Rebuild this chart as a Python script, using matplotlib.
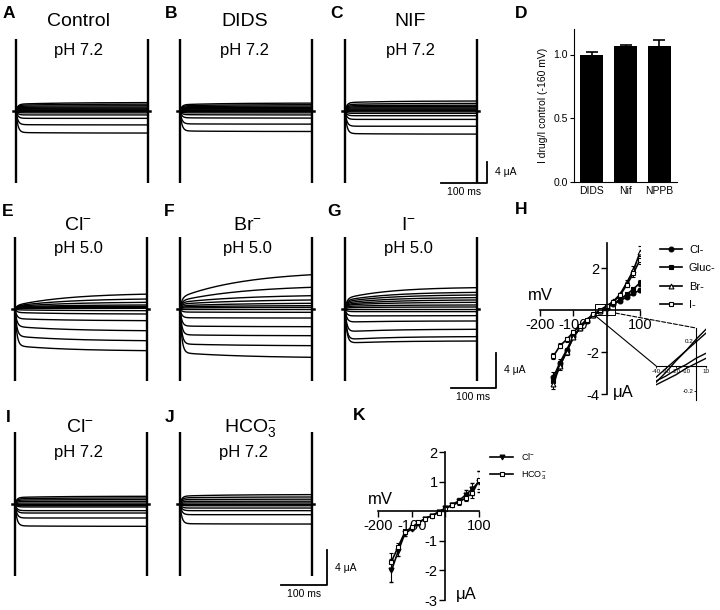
import numpy as np
import matplotlib.pyplot as plt
from matplotlib.patches import Rectangle, ConnectionPatch
from matplotlib.lines import Line2D

plt.rcParams['font.family'] = ['Liberation Sans', 'DejaVu Sans']
plt.rcParams['mathtext.fontset'] = 'custom'
plt.rcParams['mathtext.rm'] = 'Liberation Sans'
plt.rcParams['mathtext.it'] = 'Liberation Sans:italic'
plt.rcParams['mathtext.bf'] = 'Liberation Sans:bold'
plt.rcParams['axes.unicode_minus'] = False

# ---------------- data ----------------
PULSE_MS = 290          # voltage step duration
SCALE_MS, SCALE_UA = 100, 4

# current (uA) of each voltage-step trace at pulse start / pulse end
control_start = [1.3, 1.1, 0.9, 0.7, 0.5, 0.35, 0.2, 0.1, -0.1, -0.35, -0.75, -1.4, -2.6, -4.1]
control_end = [1.6, 1.3, 1.0, 0.75, 0.55, 0.38, 0.22, 0.1, -0.1, -0.35, -0.75, -1.4, -2.65, -4.2]
dids_start = [1.2, 1.0, 0.8, 0.65, 0.5, 0.35, 0.2, 0.08, -0.1, -0.35, -0.7, -1.3, -2.45, -3.8]
dids_end = [1.5, 1.2, 0.95, 0.7, 0.5, 0.35, 0.2, 0.08, -0.1, -0.35, -0.75, -1.35, -2.5, -3.9]
nif_start = [1.6, 1.25, 1.0, 0.8, 0.6, 0.4, 0.22, 0.08, -0.15, -0.45, -0.9, -1.6, -2.9, -4.3]
nif_end = [1.9, 1.45, 1.1, 0.85, 0.6, 0.4, 0.22, 0.08, -0.15, -0.45, -0.9, -1.6, -2.9, -4.4]

cl5_start = [0.4, 0.35, 0.3, 0.25, 0.2, 0.12, 0.05, -0.1, -0.4, -1.1, -2.0, -3.1, -4.2]
cl5_end = [1.7, 1.14, 0.76, 0.46, 0.3, 0.19, 0.08, -0.19, -0.57, -1.33, -2.48, -3.62, -4.76]
br5_start = [1.33, 0.95, 0.76, 0.57, 0.38, 0.25, 0.12, 0.0, -0.35, -1.0, -1.95, -2.95, -4.0, -5.0]
br5_end = [3.92, 2.48, 1.52, 1.03, 0.65, 0.38, 0.19, 0.0, -0.38, -1.03, -2.02, -3.05, -4.19, -5.52]
i5_start = [1.22, 1.0, 0.85, 0.7, 0.55, 0.45, 0.3, 0.15, 0.0, -0.3, -0.8, -1.5, -2.6, -3.5, -3.9]
i5_end = [2.44, 1.9, 1.6, 1.3, 1.03, 0.76, 0.46, 0.23, 0.0, -0.3, -0.76, -1.37, -2.32, -3.16, -3.66]

cl7_start = [0.75, 0.6, 0.45, 0.3, 0.11, 0.0, -0.19, -0.34, -0.76, -1.03, -1.6, -2.5]
cl7_end = [0.88, 0.69, 0.5, 0.3, 0.11, 0.0, -0.19, -0.34, -0.76, -1.03, -1.6, -2.55]
hco3_start = [0.9, 0.7, 0.5, 0.3, 0.12, 0.0, -0.2, -0.46, -0.76, -1.22, -2.25]
hco3_end = [1.07, 0.8, 0.55, 0.32, 0.12, 0.0, -0.2, -0.46, -0.76, -1.22, -2.29]

# D: current ratio at -160 mV
drugs = ['DIDS', 'Nif', 'NPPB']
drug_ratio = [1.0, 1.065, 1.065]
drug_sem = [0.02, 0.01, 0.045]

# H: I-V relation, pH 5.0
iv_mv = [-160, -140, -120, -100, -80, -60, -40, -20, 0, 20, 40, 60, 80, 100]
iv_cl = [-3.2, -2.5, -1.9, -1.25, -0.85, -0.5, -0.25, -0.05, 0.12, 0.28, 0.45, 0.62, 0.8, 0.95]
iv_gluc = [-3.4, -2.6, -1.95, -1.3, -0.85, -0.5, -0.25, -0.05, 0.15, 0.32, 0.5, 0.75, 1.0, 1.3]
iv_br = [-3.5, -2.65, -2.0, -1.3, -0.85, -0.48, -0.22, -0.02, 0.18, 0.42, 0.75, 1.3, 1.9, 2.75]
iv_i = [-2.2, -1.7, -1.4, -1.05, -0.75, -0.45, -0.2, 0.0, 0.2, 0.4, 0.7, 1.2, 1.75, 2.4]
err_cl = [0.25, 0.15, 0.1, 0.08, 0.05, 0.05, 0.03, 0.03, 0.03, 0.03, 0.05, 0.05, 0.08, 0.1]
err_gluc = [0.2, 0.15, 0.1, 0.08, 0.05, 0.05, 0.03, 0.03, 0.03, 0.03, 0.05, 0.08, 0.1, 0.15]
err_br = [0.25, 0.2, 0.12, 0.08, 0.05, 0.05, 0.03, 0.03, 0.03, 0.05, 0.08, 0.12, 0.2, 0.3]
err_i = [0.15, 0.12, 0.1, 0.08, 0.05, 0.05, 0.03, 0.03, 0.03, 0.05, 0.08, 0.12, 0.15, 0.2]

# H inset: -40..10 mV
inset_mv = [-40, -30, -20, -10, 0, 10]
inset_cl = [-0.15, -0.11, -0.07, -0.02, 0.02, 0.06]
inset_gluc = [-0.12, -0.08, -0.03, 0.01, 0.06, 0.1]
inset_br = [-0.13, -0.05, 0.04, 0.12, 0.21, 0.29]
inset_i = [-0.09, -0.02, 0.05, 0.12, 0.19, 0.26]

# K: I-V relation, pH 7.2
k_cl = [-2.0, -1.35, -0.75, -0.6, -0.4, -0.25, -0.15, -0.02, 0.1, 0.22, 0.35, 0.55, 0.75, 1.0]
k_hco3 = [-1.7, -1.2, -0.7, -0.55, -0.38, -0.25, -0.15, -0.05, 0.08, 0.2, 0.3, 0.45, 0.6, 1.05]
k_err_cl = [0.38, 0.15, 0.08, 0.05, 0.05, 0.03, 0.03, 0.03, 0.03, 0.05, 0.08, 0.15, 0.2, 0.35]
k_err_hco3 = [0.3, 0.12, 0.08, 0.05, 0.05, 0.03, 0.03, 0.03, 0.03, 0.05, 0.08, 0.12, 0.15, 0.3]

# ---------------- layout helpers ----------------
W, H = 720, 610
PX_MS = 0.455
fig = plt.figure(figsize=(W / 100, H / 100), dpi=100)


def px_axes(l, t, r, b):
    return fig.add_axes([l / W, 1 - b / H, (r - l) / W, (b - t) / H])


def ftext(x, y, s, **kw):
    fig.text(x / W, 1 - y / H, s, **kw)


def trace_panel(x0, y0, gain, spike, start, end, tau):
    span = spike + 0.6
    ax = px_axes(x0 - 14 * PX_MS, y0 - span * gain, x0 + 306 * PX_MS, y0 + span * gain)
    ax.set_xlim(-14, 306)
    ax.set_ylim(-span, span)
    ax.axis('off')
    t = np.linspace(0, PULSE_MS, 400)
    onset = 1 - np.exp(-t / 4.0)
    shape = (1 - np.exp(-t / tau)) / (1 - np.exp(-PULSE_MS / tau))
    for i0, i1 in zip(start, end):
        ax.plot(t, (i0 + (i1 - i0) * shape) * onset, color='k', lw=1.0)
    for tt in (0, PULSE_MS):
        ax.plot([tt, tt], [-spike, spike], color='k', lw=1.7, solid_capstyle='butt')
    ax.plot([-7, 0], [0, 0], color='k', lw=1.8)
    ax.plot([PULSE_MS, PULSE_MS + 5], [0, 0], color='k', lw=1.8)
    return ax


def scale_bar(ax, t_right, i_bottom):
    ax.plot([t_right - SCALE_MS, t_right, t_right], [i_bottom, i_bottom, i_bottom + SCALE_UA],
            color='k', lw=1.3, clip_on=False)
    ax.annotate(f'{SCALE_UA} μA', xy=(t_right, i_bottom + SCALE_UA / 2), xytext=(6, 0),
                textcoords='offset points', ha='left', va='center', fontsize=7.5,
                annotation_clip=False)
    ax.annotate(f'{SCALE_MS} ms', xy=(t_right - SCALE_MS / 2, i_bottom), xytext=(0, -3),
                textcoords='offset points', ha='center', va='top', fontsize=7.5,
                annotation_clip=False)


def cross_axes(ax):
    for s in ('top', 'right'):
        ax.spines[s].set_visible(False)
    ax.spines['left'].set_position(('data', 0))
    ax.spines['bottom'].set_position(('data', 0))
    ax.patch.set_alpha(0)


def legend_handle(mk, face, label):
    return Line2D([], [], color='k', lw=1.2, marker=mk, ms=3.5, mfc=face, mec='k',
                  mew=0.8, label=label)


# ---------------- row 1 ----------------
trace_panel(16, 111, 5.25, 13.7, control_start, control_end, 100)
trace_panel(180, 111, 5.25, 13.7, dids_start, dids_end, 100)
axc = trace_panel(345, 111, 5.25, 13.7, nif_start, nif_end, 100)
scale_bar(axc, 312, -13.7)

for x, title in [(78, 'Control'), (245, 'DIDS'), (410, 'NIF')]:
    ftext(x, 21, title, ha='center', va='center', fontsize=14)
    ftext(x, 50, 'pH 7.2', ha='center', va='center', fontsize=12)

# D: bar chart
axd = px_axes(574, 29, 677, 182)
axd.bar(range(3), drug_ratio, width=0.68, color='k')
axd.errorbar(range(3), drug_ratio, yerr=drug_sem, fmt='none', ecolor='k',
             capsize=4.5, elinewidth=1.2, capthick=1.2)
axd.set_xlim(-0.515, 2.515)
axd.set_ylim(0, 1.2)
axd.set_yticks([0, 0.5, 1.0])
axd.set_yticklabels(['0.0', '0.5', '1.0'])
axd.set_xticks(range(3))
axd.set_xticklabels(drugs)
axd.tick_params(axis='x', length=0, labelsize=7.5, pad=3)
axd.tick_params(axis='y', length=3, labelsize=7.5, pad=1.5)
for s in ('top', 'right'):
    axd.spines[s].set_visible(False)
axd.set_ylabel('I drug/I control (-160 mV)', fontsize=7.5, labelpad=4)

# ---------------- row 2 ----------------
trace_panel(15, 309, 8.75, 8.2, cl5_start, cl5_end, 120)
trace_panel(180, 309, 8.75, 8.2, br5_start, br5_end, 150)
axg = trace_panel(345, 309, 8.75, 8.2, i5_start, i5_end, 100)
scale_bar(axg, 332, -9.0)

for x, title in [(78, 'Cl$^{-}$'), (247, 'Br$^{-}$'), (408, 'I$^{-}$')]:
    ftext(x, 225, title, ha='center', va='center', fontsize=14)
    ftext(x, 248, 'pH 5.0', ha='center', va='center', fontsize=12)

# H: I-V
axh = px_axes(540, 243, 640, 394)
cross_axes(axh)
axh.set_xlim(-200, 100)
axh.set_ylim(-4, 3.2)
series_h = [
    ('Cl-', iv_cl, err_cl, 'o', 'k'),
    ('Gluc-', iv_gluc, err_gluc, 's', 'k'),
    ('Br-', iv_br, err_br, '^', 'white'),
    ('I-', iv_i, err_i, 's', 'white'),
]
handles = []
for label, vals, err, mk, face in series_h:
    axh.errorbar(iv_mv, vals, yerr=err, color='k', lw=1.2, marker=mk, ms=3.5,
                 mfc=face, mec='k', mew=0.8, capsize=1.5, elinewidth=0.8)
    handles.append(legend_handle(mk, face, label))
axh.set_xticks([-200, -100, 0, 100])
axh.set_xticklabels(['-200', '-100', '', '100'])
axh.set_yticks([-4, -2, 0, 2])
axh.set_yticklabels(['-4', '-2', '', '2'])
axh.tick_params(labelsize=10.5, length=4, width=1, pad=1.5)
for s in ('left', 'bottom'):
    axh.spines[s].set_linewidth(1.2)
axh.add_patch(Rectangle((-36, -0.24), 62, 0.53, fill=False, lw=0.7, ec='k'))
axh.legend(handles=handles, loc='upper left', bbox_to_anchor=(660 / W, 1 - 245 / H),
           bbox_transform=fig.transFigure, frameon=False, fontsize=8, borderpad=0,
           borderaxespad=0, handlelength=2.0, handletextpad=0.6, labelspacing=0.75)
ftext(540, 296, 'mV', ha='center', va='center', fontsize=12)
ftext(623, 393, 'μA', ha='center', va='center', fontsize=12)

# H inset
axin = px_axes(656, 328, 706, 400)
cross_axes(axin)
axin.set_xlim(-40, 10)
axin.set_ylim(-0.27, 0.3)
for vals in (inset_cl, inset_gluc, inset_br, inset_i):
    axin.plot(inset_mv, vals, color='k', lw=1.0)
axin.set_xticks([-40, -30, -20, -10, 10])
axin.set_yticks([-0.2, 0.2])
axin.tick_params(labelsize=4.5, length=1.5, width=0.6, pad=0.5)
for s in ('left', 'bottom'):
    axin.spines[s].set_linewidth(0.8)
fig.add_artist(ConnectionPatch(xyA=(-36, -0.24), coordsA=axh.transData, xyB=(-40, 0),
                               coordsB=axin.transData, color='k', lw=0.8))
fig.add_artist(ConnectionPatch(xyA=(26, -0.14), coordsA=axh.transData, xyB=(0, 0.3),
                               coordsB=axin.transData, color='k', lw=0.8, ls='--'))

# ---------------- row 3 ----------------
trace_panel(15, 504, 8.75, 8.2, cl7_start, cl7_end, 100)
axj = trace_panel(180, 504, 8.75, 8.2, hco3_start, hco3_end, 100)
scale_bar(axj, 323, -9.26)
ftext(80, 428, 'Cl$^{-}$', ha='center', va='center', fontsize=14)
ftext(78, 453, 'pH 7.2', ha='center', va='center', fontsize=12)
ftext(250, 428, 'HCO$_3^{-}$', ha='center', va='center', fontsize=14)
ftext(243, 453, 'pH 7.2', ha='center', va='center', fontsize=12)

# K: I-V
axk = px_axes(378, 452, 479, 600)
cross_axes(axk)
axk.set_xlim(-200, 100)
axk.set_ylim(-3, 2)
axk.errorbar(iv_mv, k_cl, yerr=k_err_cl, color='k', lw=1.2, marker='v', ms=3.5, mfc='k',
             mec='k', capsize=1.5, elinewidth=0.8)
axk.errorbar(iv_mv, k_hco3, yerr=k_err_hco3, color='k', lw=1.2, marker='s', ms=3.5,
             mfc='white', mec='k', mew=0.8, capsize=1.5, elinewidth=0.8)
hk = [legend_handle('v', 'k', 'Cl$^{-}$'), legend_handle('s', 'white', 'HCO$_3^{-}$')]
axk.set_xticks([-200, -100, 0, 100])
axk.set_xticklabels(['-200', '-100', '', '100'])
axk.set_yticks([-3, -2, -1, 0, 1, 2])
axk.set_yticklabels(['-3', '-2', '-1', '', '1', '2'])
axk.tick_params(labelsize=10.5, length=4, width=1, pad=1.5)
for s in ('left', 'bottom'):
    axk.spines[s].set_linewidth(1.2)
axk.legend(handles=hk, loc='upper left', bbox_to_anchor=(490 / W, 1 - 451 / H),
           bbox_transform=fig.transFigure, frameon=False, fontsize=6.5, borderpad=0,
           borderaxespad=0, handlelength=2.6, handletextpad=0.8, labelspacing=0.8)
ftext(380, 499, 'mV', ha='center', va='center', fontsize=12)
ftext(466, 595, 'μA', ha='center', va='center', fontsize=12)

# panel letters
for x, y, letter in [(3, 14, 'A'), (165, 14, 'B'), (330, 14, 'C'), (515, 14, 'D'),
                     (2, 212, 'E'), (164, 212, 'F'), (327, 212, 'G'), (515, 210, 'H'),
                     (6, 417, 'I'), (165, 417, 'J'), (353, 415, 'K')]:
    ftext(x, y, letter, ha='left', va='center', fontsize=12.5, fontweight='bold')

fig.savefig('out.png', dpi=100)
